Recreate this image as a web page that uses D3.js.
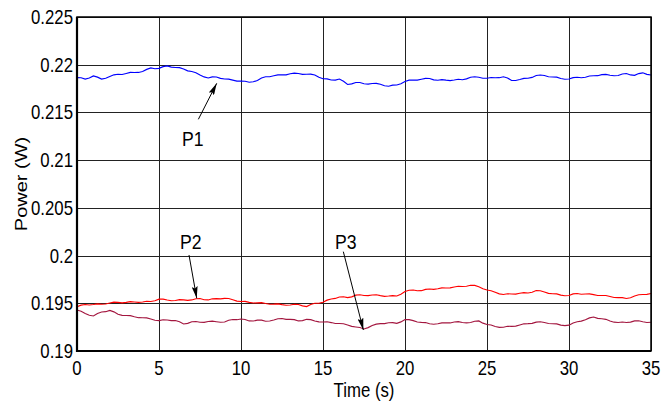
<!DOCTYPE html>
<html><head><meta charset="utf-8">
<script src="https://cdn.jsdelivr.net/npm/d3@7"></script>
<style>
body{margin:0;background:#fff}
svg{display:block}
text{font-family:"Liberation Sans",Arial,Helvetica,sans-serif;fill:#000}
</style>
</head><body>
<svg id="c" width="672" height="403"></svg>
<script>
// ---- data ----
const xTicks = [0, 5, 10, 15, 20, 25, 30, 35];
const yTicks = [0.19, 0.195, 0.2, 0.205, 0.21, 0.215, 0.22, 0.225];
const yTickLabels = ["0.19", "0.195", "0.2", "0.205", "0.21", "0.215", "0.22", "0.225"];
const timeStep = 0.25; // seconds between samples, t = 0 .. 35
const p1 = [0.21864,0.21863,0.21850,0.21861,0.21882,0.21870,0.21850,0.21858,0.21877,0.21894,
0.21900,0.21897,0.21908,0.21919,0.21918,0.21919,0.21929,0.21951,0.21966,0.21958,
0.21962,0.21980,0.21987,0.21975,0.21971,0.21969,0.21955,0.21936,0.21929,0.21916,
0.21892,0.21872,0.21861,0.21873,0.21871,0.21857,0.21850,0.21849,0.21838,0.21828,
0.21829,0.21827,0.21816,0.21821,0.21835,0.21861,0.21874,0.21874,0.21884,0.21894,
0.21894,0.21894,0.21905,0.21912,0.21908,0.21899,0.21900,0.21902,0.21892,0.21868,
0.21853,0.21852,0.21840,0.21839,0.21850,0.21826,0.21793,0.21799,0.21814,0.21814,
0.21801,0.21797,0.21803,0.21804,0.21795,0.21779,0.21774,0.21786,0.21787,0.21801,
0.21824,0.21838,0.21840,0.21839,0.21848,0.21857,0.21856,0.21841,0.21837,0.21843,
0.21838,0.21834,0.21840,0.21848,0.21843,0.21852,0.21869,0.21874,0.21869,0.21858,
0.21858,0.21866,0.21863,0.21864,0.21874,0.21861,0.21835,0.21835,0.21845,0.21857,
0.21858,0.21867,0.21887,0.21892,0.21887,0.21874,0.21871,0.21870,0.21856,0.21848,
0.21850,0.21865,0.21869,0.21863,0.21869,0.21882,0.21884,0.21885,0.21896,0.21899,
0.21890,0.21884,0.21887,0.21903,0.21908,0.21893,0.21889,0.21907,0.21915,0.21899,
0.21892];
const p2 = [0.19464,0.19481,0.19487,0.19482,0.19487,0.19494,0.19490,0.19492,0.19503,0.19512,
0.19510,0.19504,0.19510,0.19517,0.19514,0.19509,0.19514,0.19521,0.19519,0.19526,
0.19543,0.19544,0.19535,0.19527,0.19529,0.19538,0.19535,0.19530,0.19535,0.19548,
0.19550,0.19537,0.19535,0.19547,0.19549,0.19546,0.19552,0.19550,0.19537,0.19523,
0.19519,0.19520,0.19510,0.19503,0.19505,0.19507,0.19498,0.19490,0.19491,0.19494,
0.19486,0.19479,0.19482,0.19490,0.19487,0.19473,0.19466,0.19488,0.19500,0.19500,
0.19510,0.19533,0.19545,0.19551,0.19566,0.19568,0.19559,0.19567,0.19585,0.19589,
0.19582,0.19580,0.19587,0.19589,0.19580,0.19573,0.19576,0.19581,0.19576,0.19595,
0.19624,0.19637,0.19639,0.19631,0.19632,0.19646,0.19650,0.19646,0.19652,0.19661,
0.19660,0.19661,0.19671,0.19679,0.19676,0.19678,0.19689,0.19687,0.19674,0.19652,
0.19639,0.19632,0.19615,0.19599,0.19592,0.19600,0.19597,0.19596,0.19605,0.19612,
0.19608,0.19616,0.19634,0.19631,0.19618,0.19604,0.19600,0.19598,0.19585,0.19579,
0.19582,0.19598,0.19603,0.19595,0.19597,0.19599,0.19591,0.19582,0.19582,0.19582,
0.19571,0.19561,0.19560,0.19559,0.19550,0.19558,0.19576,0.19589,0.19592,0.19593,
0.19603];
const p3 = [0.19430,0.19417,0.19393,0.19375,0.19367,0.19393,0.19409,0.19412,0.19425,0.19410,
0.19385,0.19374,0.19372,0.19371,0.19359,0.19349,0.19348,0.19347,0.19335,0.19322,
0.19318,0.19327,0.19325,0.19318,0.19320,0.19307,0.19283,0.19290,0.19307,0.19309,
0.19301,0.19300,0.19309,0.19313,0.19307,0.19301,0.19304,0.19322,0.19330,0.19328,
0.19335,0.19330,0.19315,0.19314,0.19323,0.19323,0.19312,0.19314,0.19325,0.19338,
0.19341,0.19332,0.19332,0.19329,0.19315,0.19319,0.19332,0.19329,0.19315,0.19305,
0.19304,0.19306,0.19298,0.19288,0.19288,0.19286,0.19273,0.19258,0.19252,0.19246,
0.19231,0.19245,0.19267,0.19282,0.19287,0.19287,0.19296,0.19298,0.19290,0.19305,
0.19330,0.19329,0.19318,0.19304,0.19300,0.19298,0.19285,0.19280,0.19285,0.19295,
0.19294,0.19294,0.19304,0.19307,0.19299,0.19294,0.19299,0.19312,0.19315,0.19292,
0.19278,0.19273,0.19257,0.19248,0.19249,0.19259,0.19258,0.19261,0.19273,0.19285,
0.19287,0.19290,0.19302,0.19306,0.19299,0.19288,0.19286,0.19284,0.19271,0.19266,
0.19271,0.19294,0.19307,0.19313,0.19328,0.19347,0.19356,0.19342,0.19338,0.19332,
0.19315,0.19302,0.19299,0.19304,0.19299,0.19303,0.19316,0.19317,0.19307,0.19299,
0.19301];
const seriesNames = ["P1", "P2", "P3"];
// annotations: label position and arrow (data coordinates)
const annLabels = [[6.4, 0.21143], [6.28, 0.20066], [15.73, 0.20066]];
const annFrom = [[7.40, 0.21428], [6.83, 0.20006], [16.24, 0.20041]];
const annTo = [[8.52, 0.21805], [7.30, 0.19552], [17.46, 0.19220]];

// ---- layout ----
const W = 672, H = 403;
const m = {left: 77, right: 21, top: 17, bottom: 52};
const svg = d3.select("#c");
const x = d3.scaleLinear().domain([0, 35]).range([m.left, W - m.right]);
const y = d3.scaleLinear().domain([0.19, 0.225]).range([H - m.bottom, m.top]);
const colors = ["#0000ff", "#ff0000", "#a3163f"];
const SX = 0.84;

// grid
svg.append("g").attr("transform", `translate(0,${H - m.bottom})`)
  .call(d3.axisBottom(x).tickValues(xTicks).tickSize(-(H - m.bottom - m.top)).tickFormat(""))
  .call(g => g.select(".domain").remove())
  .call(g => g.selectAll("line").attr("stroke", "#222").attr("stroke-width", 1).attr("shape-rendering", "crispEdges"));
svg.append("g").attr("transform", `translate(${m.left},0)`)
  .call(d3.axisLeft(y).tickValues(yTicks).tickSize(-(W - m.left - m.right)).tickFormat(""))
  .call(g => g.select(".domain").remove())
  .call(g => g.selectAll("line").attr("stroke", "#222").attr("stroke-width", 1).attr("shape-rendering", "crispEdges"));

// series
const line = d3.line().x((d, i) => x(i * timeStep)).y(d => y(d));
[p1, p2, p3].forEach((s, k) => {
  svg.append("path").datum(s).attr("d", line)
    .attr("fill", "none").attr("stroke", colors[k]).attr("stroke-width", 1.15)
    .attr("stroke-linejoin", "miter");
});

// frame
svg.append("rect").attr("x", x(0)).attr("y", y(0.225))
  .attr("width", x(35) - x(0)).attr("height", y(0.19) - y(0.225))
  .attr("fill", "none").attr("stroke", "#000").attr("stroke-width", 1.5);
svg.append("line").attr("x1", x(0)).attr("x2", x(0)).attr("y1", y(0.225)).attr("y2", y(0.19) + 1)
  .attr("stroke", "#000").attr("stroke-width", 2.2);
svg.append("line").attr("x1", x(0) - 1).attr("x2", x(35)).attr("y1", y(0.19)).attr("y2", y(0.19))
  .attr("stroke", "#000").attr("stroke-width", 2.2);

// tick labels
svg.append("g").selectAll("text").data(xTicks).join("text")
  .attr("transform", d => `translate(${x(d)},${H - m.bottom + 24}) scale(${SX},1)`)
  .attr("text-anchor", "middle").attr("font-size", 20).text(d => d);
svg.append("g").selectAll("text").data(yTicks).join("text")
  .attr("transform", d => `translate(${m.left - 4},${y(d) + 7}) scale(${SX},1)`)
  .attr("text-anchor", "end").attr("font-size", 20).text((d, i) => yTickLabels[i]);

// axis titles
svg.append("text").attr("transform", `translate(${(m.left + W - m.right) / 2},${H - 6}) scale(${SX},1)`)
  .attr("text-anchor", "middle").attr("font-size", 20).text("Time (s)");
svg.append("text").attr("transform", `translate(27,${(m.top + H - m.bottom) / 2}) rotate(-90) scale(1,${SX})`)
  .attr("text-anchor", "middle").attr("font-size", 20).text("Power (W)");

// annotations
const defs = svg.append("defs");
defs.append("marker").attr("id", "ah").attr("viewBox", "0 0 12 6")
  .attr("refX", 12).attr("refY", 3).attr("markerWidth", 12).attr("markerHeight", 6)
  .attr("markerUnits", "userSpaceOnUse").attr("orient", "auto")
  .append("path").attr("d", "M0,0 L12,3 L0,6 L2,3 Z").attr("fill", "#000");
seriesNames.forEach((n, k) => {
  svg.append("text")
    .attr("transform", `translate(${x(annLabels[k][0])},${y(annLabels[k][1])}) scale(${SX},1)`)
    .attr("font-size", 21).text(n);
  svg.append("line")
    .attr("x1", x(annFrom[k][0])).attr("y1", y(annFrom[k][1]))
    .attr("x2", x(annTo[k][0])).attr("y2", y(annTo[k][1]))
    .attr("stroke", "#000").attr("stroke-width", 1).attr("marker-end", "url(#ah)");
});
</script>
</body></html>
